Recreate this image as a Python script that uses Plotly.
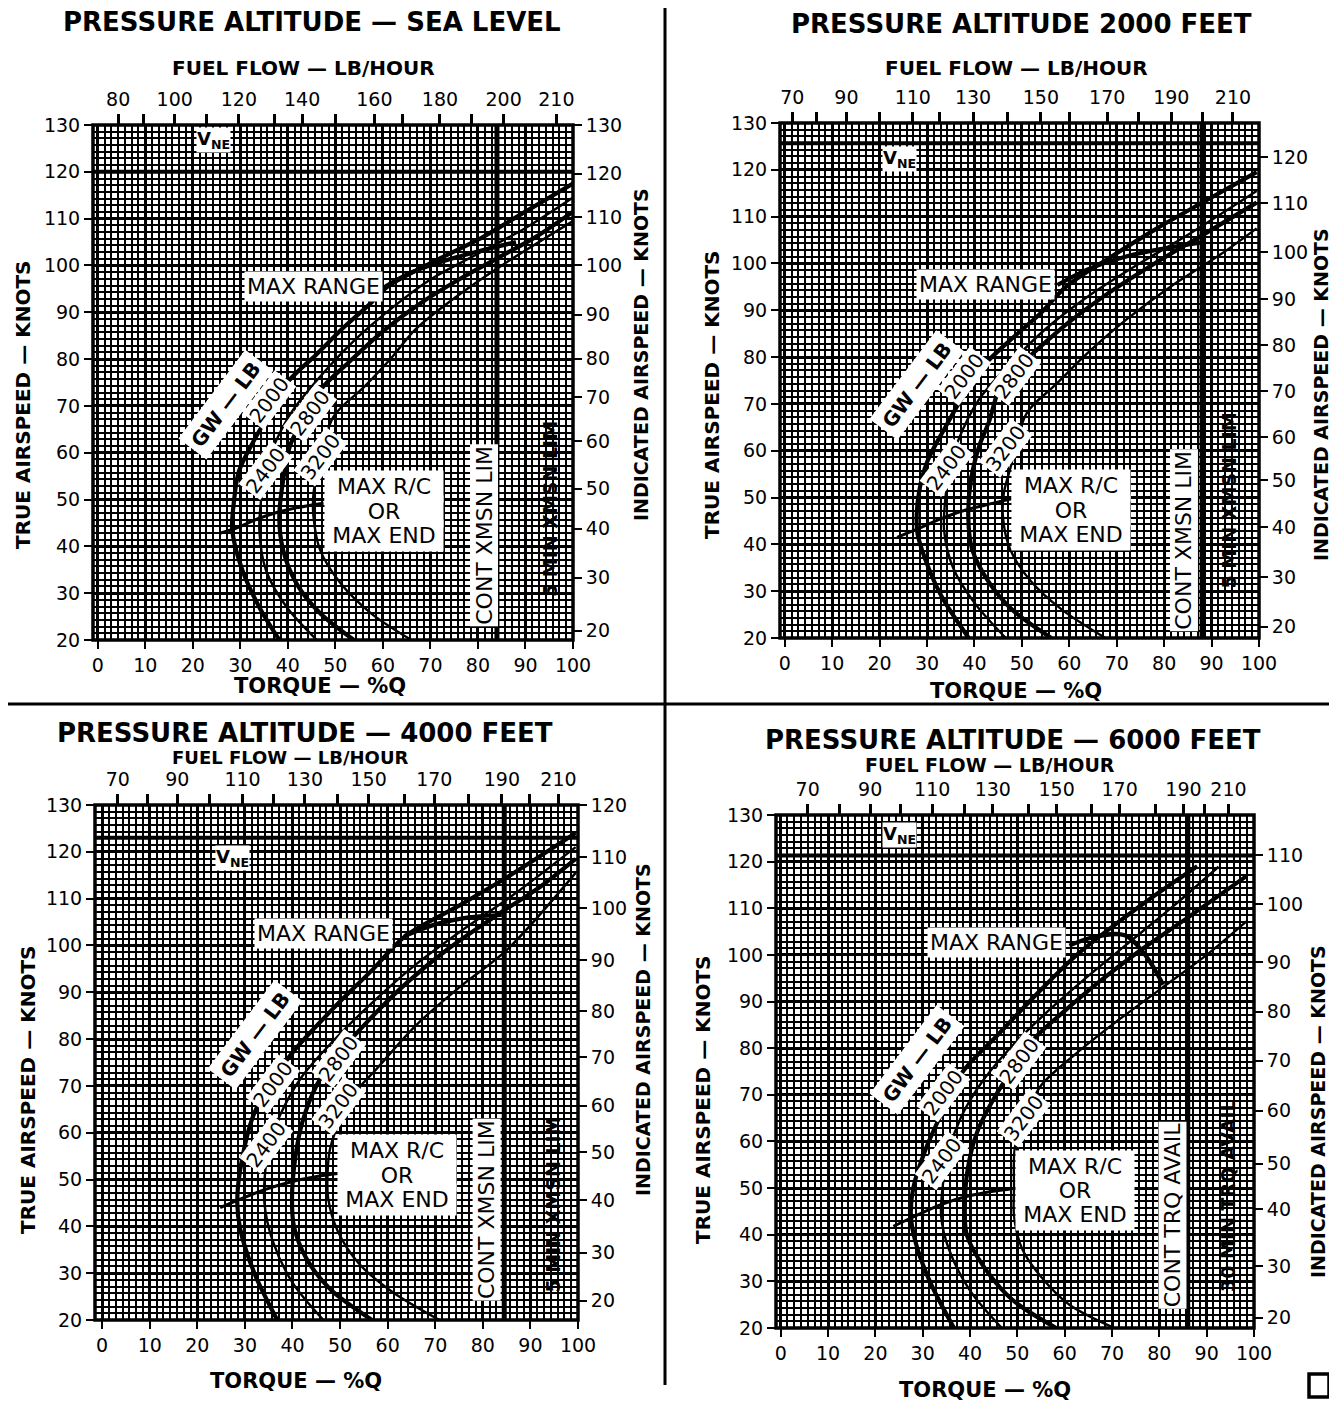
import plotly.graph_objects as go

W, H = 1337, 1406          # browser window
OFF = 8                    # default page margin around the plot div
WF, HF = W - OFF, H - OFF  # figure size
FONT = "DejaVu Sans, Verdana, sans-serif"

# ---------------- data ----------------
PANEL_TITLES = ["PRESSURE ALTITUDE — SEA LEVEL", "PRESSURE ALTITUDE 2000 FEET",
                "PRESSURE ALTITUDE — 4000 FEET", "PRESSURE ALTITUDE — 6000 FEET"]
GW_LABELS = ["2000", "2400", "2800", "3200"]
RC_LINES = ["MAX R/C", "OR", "MAX END"]

# fuel flow scale (lb/hr) placed on the torque scale
P1_FUEL = [80, 90, 100, 110, 120, 130, 140, 150, 160, 170, 180, 190, 200, 210]
P1_FUEL_TQ = [4.3, 9.6, 16.2, 22.9, 29.7, 37.2, 43, 50.1, 58.2, 64.2, 72, 78.7, 85.4, 96.5]
P1_FUEL_SHOWN = [80, 100, 120, 140, 160, 180, 200, 210]
P2_FUEL = [70, 80, 90, 100, 110, 120, 130, 140, 150, 160, 170, 180, 190, 200, 210]
P2_FUEL_TQ = [1.6, 6.8, 13.0, 20.0, 27.0, 32.6, 39.7, 47.0, 54.0, 60.0, 68.0, 74.5, 81.5, 88.0, 94.5]
P3_FUEL = [70, 80, 90, 100, 110, 120, 130, 140, 150, 160, 170, 180, 190, 200, 210]
P3_FUEL_TQ = [3.3, 9.5, 15.8, 22.6, 29.5, 36.1, 42.6, 49.4, 56.0, 63.5, 69.8, 77.0, 84.0, 89.8, 95.9]
P4_FUEL = [70, 80, 90, 100, 110, 120, 130, 140, 150, 160, 170, 180, 190, 200, 210]
P4_FUEL_TQ = [5.7, 12.4, 18.9, 25.2, 32.0, 38.8, 44.8, 52.3, 58.3, 65.7, 71.6, 79.2, 85.1, 89.5, 94.6]
P234_FUEL_SHOWN = [70, 90, 110, 130, 150, 170, 190, 210]

# indicated airspeed scale placed on the true airspeed scale
P1_IAS = [130, 120, 110, 100, 90, 80, 70, 60, 50, 40, 30, 20]
P1_IAS_TAS = [130, 119.6, 110.3, 100, 89.5, 80.1, 71.8, 62.4, 52.3, 43.8, 33.3, 22]
P2_IAS = [120, 110, 100, 90, 80, 70, 60, 50, 40, 30, 20]
P2_IAS_TAS = [122.7, 112.9, 102.4, 92.4, 82.6, 72.7, 62.9, 53.7, 43.7, 33.0, 22.4]
P3_IAS = [120, 110, 100, 90, 80, 70, 60, 50, 40, 30, 20]
P3_IAS_TAS = [130, 118.8, 108, 96.9, 85.9, 76.1, 65.8, 55.9, 45.6, 34.4, 24.1]
P4_IAS = [110, 100, 90, 80, 70, 60, 50, 40, 30, 20]
P4_IAS_TAS = [121.4, 110.9, 98.5, 87.8, 77.3, 66.6, 55.2, 45.5, 33.3, 22.2]

# limits
VNE_TAS = [120, 125.7, 123, 121.3]
CONT_LIMIT_TQ = [84, 88, 84.5, 86]

# gross-weight curves: torque (%Q) vs true airspeed (kt)
P1_2000_TQ = [38.2, 34, 30.4, 28.3, 28.6, 29.7, 33.3, 36.5, 39.7, 46, 52, 57.5, 61, 70, 80, 90, 100]
P1_2000_TAS = [20, 27, 35, 43.5, 49, 56, 63.4, 69, 74.8, 81, 87, 92, 95.5, 100.5, 105.5, 111.5, 117.5]
P1_2400_TQ = [46.1, 39.7, 35.4, 34, 34.3, 35.2, 37.5, 41, 47, 54, 62, 70, 80, 90, 100]
P1_2400_TAS = [20, 27.1, 34.9, 43.5, 49.2, 56, 62.5, 69, 76.5, 84, 91, 97, 102.5, 108, 114.5]
P1_2800_TQ = [53.9, 46.8, 41.8, 39, 38.2, 39, 40.4, 43, 46.8, 53, 60.3, 68, 76, 84, 92, 100]
P1_2800_TAS = [20, 25.7, 32.1, 39.2, 46.3, 54.1, 61.3, 67, 73.4, 79.5, 86.2, 92, 97, 101.5, 106, 111.5]
P1_3200_TQ = [66, 57.5, 51.1, 46.8, 45.4, 45.4, 46.5, 49.6, 56, 62, 66.7, 75, 85, 100]
P1_3200_TAS = [20, 25.7, 32.1, 39.2, 46.3, 51.3, 57, 67.7, 74, 80.5, 86.2, 93, 100, 109.5]

P2_2000_TQ = [38.8, 33, 29, 27.9, 28.3, 30.1, 33.8, 37.5, 41.6, 47.5, 53.9, 59.4, 69.4, 78.5, 87.7, 99.5]
P2_2000_TAS = [20, 29, 38.6, 43, 51, 57.8, 64.9, 71.5, 77.8, 83.6, 89.3, 95.1, 101.8, 107.5, 112.8, 119.5]
P2_2400_TQ = [46.6, 40, 35.5, 33.6, 33.8, 34.8, 36.5, 41, 47, 55, 64, 74, 84, 99.5]
P2_2400_TAS = [20, 27.5, 35, 43, 49, 56, 62, 71, 78, 86, 93, 99.5, 105.5, 115.5]
P2_2800_TQ = [56.2, 48, 43, 39.5, 38.7, 39.3, 41, 43, 46, 52, 60, 68, 78, 88, 99.5]
P2_2800_TAS = [20, 26, 32, 39, 46, 54, 61, 66, 75, 80.5, 87.5, 93.5, 100, 106, 113]
P2_3200_TQ = [67.6, 58.5, 52, 47.5, 46, 46.2, 47.5, 51, 57, 64, 72, 82, 92, 99.5]
P2_3200_TAS = [20, 26, 32, 39, 46, 51, 56, 68, 74, 81, 88, 95.5, 102, 107.5]

P3_2000_TQ = [36.8, 32, 29, 28.4, 29, 31.9, 35.5, 39.9, 49, 57, 63.7, 75, 85, 99.5]
P3_2000_TAS = [20, 30, 39.5, 45, 52, 64, 70.5, 77, 87, 95, 102, 108.5, 114.5, 124]
P3_2400_TQ = [46.5, 40, 35.8, 34.1, 34.3, 35.3, 37.5, 42, 48, 57, 66, 76, 86, 99.5]
P3_2400_TAS = [20, 28, 37, 45, 52, 58, 64, 72, 79, 88, 96, 103.5, 110.5, 121]
P3_2800_TQ = [56.7, 48, 43, 40.3, 39.9, 40.5, 42, 45, 49, 56, 64, 73, 83, 92, 99.5]
P3_2800_TAS = [20, 26.5, 33, 40, 46, 54, 62, 70, 76, 84, 92, 99.5, 106.5, 112.5, 118.5]
P3_3200_TQ = [70.9, 61, 54, 49.5, 47.5, 47.4, 48, 52, 58, 66, 75, 85, 99.5]
P3_3200_TAS = [20, 26, 32, 39, 46, 52, 57, 67, 74, 83, 91, 99, 115.5]

P4_2000_TQ = [36.6, 31.5, 28.6, 27.5, 28, 30.5, 34, 38.5, 46, 54, 62, 70, 78, 88]
P4_2000_TAS = [20, 30, 38, 44, 50, 58, 66, 75, 83, 91.5, 99.5, 106, 112, 119]
P4_2400_TQ = [46.7, 40, 35.5, 33.9, 34.3, 35.5, 38, 42, 48, 56, 65, 74, 83, 92.5]
P4_2400_TAS = [20, 28, 37, 44, 51, 58, 65, 72, 79.5, 87.5, 95.5, 103, 110.5, 118.9]
P4_2800_TQ = [58.2, 49, 43, 39.3, 38.9, 39.5, 41.5, 45.5, 50, 54, 60, 67, 76, 86, 98.4]
P4_2800_TAS = [20, 26, 33, 40, 46, 54, 62, 70, 77, 82.5, 88, 94, 101, 108, 116.9]
P4_3200_TQ = [70.5, 61, 55, 51, 49.3, 49.3, 49.5, 52, 55, 62, 70, 80, 90, 98.4]
P4_3200_TAS = [20, 25, 31, 37, 44, 50, 58.8, 66, 72, 78.5, 85, 92.5, 100, 107.2]

# max range and max rate-of-climb lines
P1_MAXRANGE_TQ = [60.5, 66, 73, 80, 88]
P1_MAXRANGE_TAS = [95.5, 98.5, 101, 103, 105]
P2_MAXRANGE_TQ = [57.5, 64, 72, 80, 88]
P2_MAXRANGE_TAS = [95.4, 98.8, 101.5, 103.2, 104.5]
P3_MAXRANGE_TQ = [63.5, 70, 77, 84]
P3_MAXRANGE_TAS = [102, 104.5, 106, 106.5]
P4_MAXRANGE_TQ = [61, 66, 72.7, 77, 80.8]
P4_MAXRANGE_TAS = [102, 103.8, 104.2, 100, 93.6]

P1_MAXRC_TQ = [25.7, 28.3, 34, 38.2, 45.4, 47.5]
P1_MAXRC_TAS = [42.8, 43.6, 46, 47.4, 48.9, 49.2]
P2_MAXRC_TQ = [23.7, 28, 33, 38, 44, 48.9]
P2_MAXRC_TAS = [41.5, 43.3, 45.5, 47.3, 48.8, 50]
P3_MAXRC_TQ = [24.8, 28.5, 34, 40, 46, 49.6]
P3_MAXRC_TAS = [44, 45.6, 47.8, 49.6, 50.8, 51.3]
P4_MAXRC_TQ = [23.8, 28, 34, 40, 46, 50.4]
P4_MAXRC_TAS = [41.8, 43.8, 46.5, 48.4, 49.5, 50]

CONT_TEXT = ["CONT XMSN LIM", "CONT XMSN LIM", "CONT XMSN LIM", "CONT TRQ AVAIL"]
SHORT_TEXT = ["5 MIN XMSN LIM", "5 MIN XMSN LIM", "5 MIN XMSN LIM", "30 MIN TRQ AVAIL"]

# ---------------- assemble ----------------
panels = [
    dict(fuel=P1_FUEL, fuel_tq=P1_FUEL_TQ, shown=P1_FUEL_SHOWN, ias=P1_IAS, ias_tas=P1_IAS_TAS,
         curves=[(P1_2000_TQ, P1_2000_TAS), (P1_2400_TQ, P1_2400_TAS), (P1_2800_TQ, P1_2800_TAS), (P1_3200_TQ, P1_3200_TAS)],
         mr=(P1_MAXRANGE_TQ, P1_MAXRANGE_TAS), rc=(P1_MAXRC_TQ, P1_MAXRC_TAS)),
    dict(fuel=P2_FUEL, fuel_tq=P2_FUEL_TQ, shown=P234_FUEL_SHOWN, ias=P2_IAS, ias_tas=P2_IAS_TAS,
         curves=[(P2_2000_TQ, P2_2000_TAS), (P2_2400_TQ, P2_2400_TAS), (P2_2800_TQ, P2_2800_TAS), (P2_3200_TQ, P2_3200_TAS)],
         mr=(P2_MAXRANGE_TQ, P2_MAXRANGE_TAS), rc=(P2_MAXRC_TQ, P2_MAXRC_TAS)),
    dict(fuel=P3_FUEL, fuel_tq=P3_FUEL_TQ, shown=P234_FUEL_SHOWN, ias=P3_IAS, ias_tas=P3_IAS_TAS,
         curves=[(P3_2000_TQ, P3_2000_TAS), (P3_2400_TQ, P3_2400_TAS), (P3_2800_TQ, P3_2800_TAS), (P3_3200_TQ, P3_3200_TAS)],
         mr=(P3_MAXRANGE_TQ, P3_MAXRANGE_TAS), rc=(P3_MAXRC_TQ, P3_MAXRC_TAS)),
    dict(fuel=P4_FUEL, fuel_tq=P4_FUEL_TQ, shown=P234_FUEL_SHOWN, ias=P4_IAS, ias_tas=P4_IAS_TAS,
         curves=[(P4_2000_TQ, P4_2000_TAS), (P4_2400_TQ, P4_2400_TAS), (P4_2800_TQ, P4_2800_TAS), (P4_3200_TQ, P4_3200_TAS)],
         mr=(P4_MAXRANGE_TQ, P4_MAXRANGE_TAS), rc=(P4_MAXRC_TQ, P4_MAXRC_TAS)),
]

# pixel geometry (page pixels) of each plot frame and x-range start
GEOM = [
    dict(l=93, r=573, b=640, t=125, x0=-1.0),
    dict(l=780, r=1259, b=638, t=123, x0=-1.0),
    dict(l=95, r=578, b=1320, t=805, x0=-1.5),
    dict(l=776, r=1254, b=1328, t=815, x0=-1.0),
]
TEXTPOS = [
    dict(title=(312, 22), fuel=(303, 68), fuelsize=20, torque=(320, 686), tas=(23, 405), ias=(641, 355)),
    dict(title=(1021, 24), fuel=(1016, 68), fuelsize=20, torque=(1016, 691), tas=(712, 395), ias=(1321, 395)),
    dict(title=(305, 733), fuel=(290, 757), fuelsize=18, torque=(296, 1381), tas=(28, 1090), ias=(643, 1030)),
    dict(title=(1013, 740), fuel=(990, 765), fuelsize=19, torque=(985, 1390), tas=(703, 1100), ias=(1318, 1112)),
]
LABELPOS = [
    dict(gw=[(36.1, 71.2), (35.4, 56.3), (44.7, 68.4), (46.8, 59.1)], gwlb=(26.9, 70.2), mr=(45.3, 95.6),
         rc=(60.2, 47.5), vne=(24.4, 126.8), cont=(81.2, 42.4), short=(95.2, 48)),
    dict(gw=[(37.9, 75.9), (34.2, 56.5), (48.4, 75.9), (46.6, 60.6)], gwlb=(27.9, 74), mr=(42.3, 95.4),
         rc=(60.3, 47.3), vne=(24.3, 122.3), cont=(84.1, 40.9), short=(93.7, 49.4)),
    dict(gw=[(35.9, 70.5), (34.6, 57.5), (49.6, 75.8), (49.6, 65.7)], gwlb=(32.1, 80.9), mr=(46.6, 102.6),
         rc=(62, 50.9), vne=(27.3, 118.7), cont=(80.9, 43.5), short=(94.7, 44.6)),
    dict(gw=[(34.3, 70.4), (33.9, 55.9), (50.4, 77.2), (51.3, 65.1)], gwlb=(28.8, 77.5), mr=(45.5, 102.7),
         rc=(62.2, 49.5), vne=(25.2, 125.7), cont=(82.7, 44.2), short=(94.5, 48.5)),
]
RC_STEP = 5.2  # knots between the three lines of the MAX R/C box

fig = go.Figure()
layout = dict(width=WF, height=HF, margin=dict(l=0, r=0, t=0, b=0, autoexpand=False),
              paper_bgcolor="white", plot_bgcolor="white", showlegend=False,
              font=dict(family=FONT, color="black"))
annotations = []
shapes = []


def px(x, y):
    return (x - OFF) / WF, 1 - (y - OFF) / HF


for i, (p, g, tp, lp) in enumerate(zip(panels, GEOM, TEXTPOS, LABELPOS), start=1):
    xs = "" if i == 1 else str(i)
    xname, yname = f"x{xs}", f"y{xs}"
    xtop, yright = f"x{i+4}", f"y{i+4}"
    xr = [g["x0"], 100]
    yr = [20, 130]
    xdom = [(g["l"] - OFF) / WF, (g["r"] - OFF) / WF]
    ydom = [1 - (g["b"] - OFF) / HF, 1 - (g["t"] - OFF) / HF]
    tickfont = dict(family=FONT, size=19, color="black")
    common = dict(automargin=False, zeroline=False, showline=False, fixedrange=True,
                  tickfont=tickfont, tickcolor="black", ticks="outside", tickangle=0)
    grid_minor = dict(dtick=10 / 7, tick0=0, showgrid=True, gridcolor="black", gridwidth=1.6)
    layout[f"xaxis{xs}"] = dict(
        domain=xdom, range=xr, anchor=yname, tickmode="linear", tick0=0, dtick=10,
        ticklen=8, tickwidth=2, showgrid=True, gridcolor="black", gridwidth=3.2,
        minor=grid_minor, **common)
    layout[f"yaxis{xs}"] = dict(
        domain=ydom, range=yr, anchor=xname, tickmode="linear", tick0=0, dtick=10,
        ticklen=8, tickwidth=2, showgrid=True, gridcolor="black", gridwidth=3.2,
        minor=grid_minor, **common)
    shown_tq = [t for v, t in zip(p["fuel"], p["fuel_tq"]) if v in p["shown"]]
    shown_lb = [str(v) for v in p["fuel"] if v in p["shown"]]
    other_tq = [t for v, t in zip(p["fuel"], p["fuel_tq"]) if v not in p["shown"]]
    layout[f"xaxis{i+4}"] = dict(
        overlaying=xname, side="top", anchor=yname, range=xr, tickmode="array",
        tickvals=shown_tq, ticktext=shown_lb, ticklen=10, tickwidth=2.5, showgrid=False,
        minor=dict(tickmode="array", tickvals=other_tq, ticks="outside", ticklen=10,
                   tickwidth=2.5, tickcolor="black", showgrid=False),
        **common)
    layout[f"yaxis{i+4}"] = dict(
        overlaying=yname, side="right", anchor=xname, range=yr, tickmode="array",
        tickvals=p["ias_tas"], ticktext=[str(v) for v in p["ias"]],
        ticklen=8, tickwidth=2, showgrid=False, **common)

    # invisible anchors so the overlay axes render
    fig.add_trace(go.Scatter(x=[50], y=[50], xaxis=xtop, yaxis=yname, mode="markers",
                             marker=dict(opacity=0), hoverinfo="skip"))
    fig.add_trace(go.Scatter(x=[50], y=[50], xaxis=xname, yaxis=yright, mode="markers",
                             marker=dict(opacity=0), hoverinfo="skip"))

    # limit lines
    fig.add_trace(go.Scatter(x=xr, y=[VNE_TAS[i - 1]] * 2, xaxis=xname, yaxis=yname, mode="lines",
                             line=dict(color="black", width=4), hoverinfo="skip"))
    fig.add_trace(go.Scatter(x=[CONT_LIMIT_TQ[i - 1]] * 2, y=yr, xaxis=xname, yaxis=yname, mode="lines",
                             line=dict(color="black", width=5), hoverinfo="skip"))

    # gross weight curves
    for k, (tq, tas) in enumerate(p["curves"]):
        fig.add_trace(go.Scatter(x=tq, y=tas, xaxis=xname, yaxis=yname, mode="lines",
                                 line=dict(color="black", width=4.2 if k % 2 == 0 else 2.4,
                                           shape="spline", smoothing=0.9),
                                 hoverinfo="skip"))
    fig.add_trace(go.Scatter(x=p["mr"][0], y=p["mr"][1], xaxis=xname, yaxis=yname, mode="lines",
                             line=dict(color="black", width=4.2, shape="spline"), hoverinfo="skip"))
    fig.add_trace(go.Scatter(x=p["rc"][0], y=p["rc"][1], xaxis=xname, yaxis=yname, mode="lines",
                             line=dict(color="black", width=3, shape="spline"), hoverinfo="skip"))

    # frame
    shapes.append(dict(type="rect", xref=f"{xname} domain", yref=f"{yname} domain",
                       x0=0, x1=1, y0=0, y1=1, line=dict(color="black", width=3.5), layer="above"))

    def ann_px(text, pos, size, bold=True, angle=0):
        x, y = px(*pos)
        annotations.append(dict(text=f"<b>{text}</b>" if bold else text, x=x, y=y, xref="paper",
                                yref="paper", showarrow=False, textangle=angle,
                                font=dict(family=FONT, size=size, color="black"),
                                xanchor="center", yanchor="middle"))

    ann_px(PANEL_TITLES[i - 1], tp["title"], 26)
    ann_px("FUEL FLOW — LB/HOUR", tp["fuel"], tp["fuelsize"])
    ann_px("TORQUE — %Q", tp["torque"], 21)
    ann_px("TRUE AIRSPEED — KNOTS", tp["tas"], 20, angle=-90)
    ann_px("INDICATED AIRSPEED — KNOTS", tp["ias"], 19, angle=-90)

    def ann_d(text, pos, size, angle=0, bg="white", bold=False, pad=1, width=None):
        a = dict(text=f"<b>{text}</b>" if bold else text, x=pos[0], y=pos[1],
                 xref=xname, yref=yname, showarrow=False, textangle=angle,
                 font=dict(family=FONT, size=size, color="black"),
                 bgcolor=bg, borderpad=pad, xanchor="center", yanchor="middle")
        if width:
            a["width"] = width
            a["align"] = "center"
        annotations.append(a)

    for lab, pos in zip(GW_LABELS, lp["gw"]):
        ann_d(lab, pos, 20, angle=-53)
    ann_d("GW — LB", lp["gwlb"], 20, angle=-53, bold=True, pad=5)
    ann_d("MAX RANGE", lp["mr"], 22, pad=2)
    for j, line_text in enumerate(RC_LINES):
        ann_d(line_text, (lp["rc"][0], lp["rc"][1] + RC_STEP * (1 - j)), 22, pad=3, width=112)
    ann_d("V<sub>NE</sub>", lp["vne"], 18, bg="white", bold=True, pad=0)
    ann_d(CONT_TEXT[i - 1], lp["cont"], 22, angle=-90, pad=1)
    ann_d(SHORT_TEXT[i - 1], lp["short"], 19, angle=-90, bg="rgba(0,0,0,0)", bold=True)

# separators and corner mark
x665, _ = px(665, 0)
_, ybot = px(0, 1385)
_, y704 = px(0, 704)
shapes.append(dict(type="line", xref="paper", yref="paper", x0=x665, x1=x665, y0=ybot, y1=1,
                   line=dict(color="black", width=3)))
shapes.append(dict(type="line", xref="paper", yref="paper", x0=0, x1=1, y0=y704, y1=y704,
                   line=dict(color="black", width=3)))
mx0, my0 = px(1309, 1397)
mx1, my1 = px(1329, 1374)
shapes.append(dict(type="rect", xref="paper", yref="paper", x0=mx0, x1=mx1, y0=my0, y1=my1,
                   line=dict(color="black", width=3.5)))

layout["annotations"] = annotations
layout["shapes"] = shapes
fig.update_layout(**layout)
fig.write_html("out.html")
